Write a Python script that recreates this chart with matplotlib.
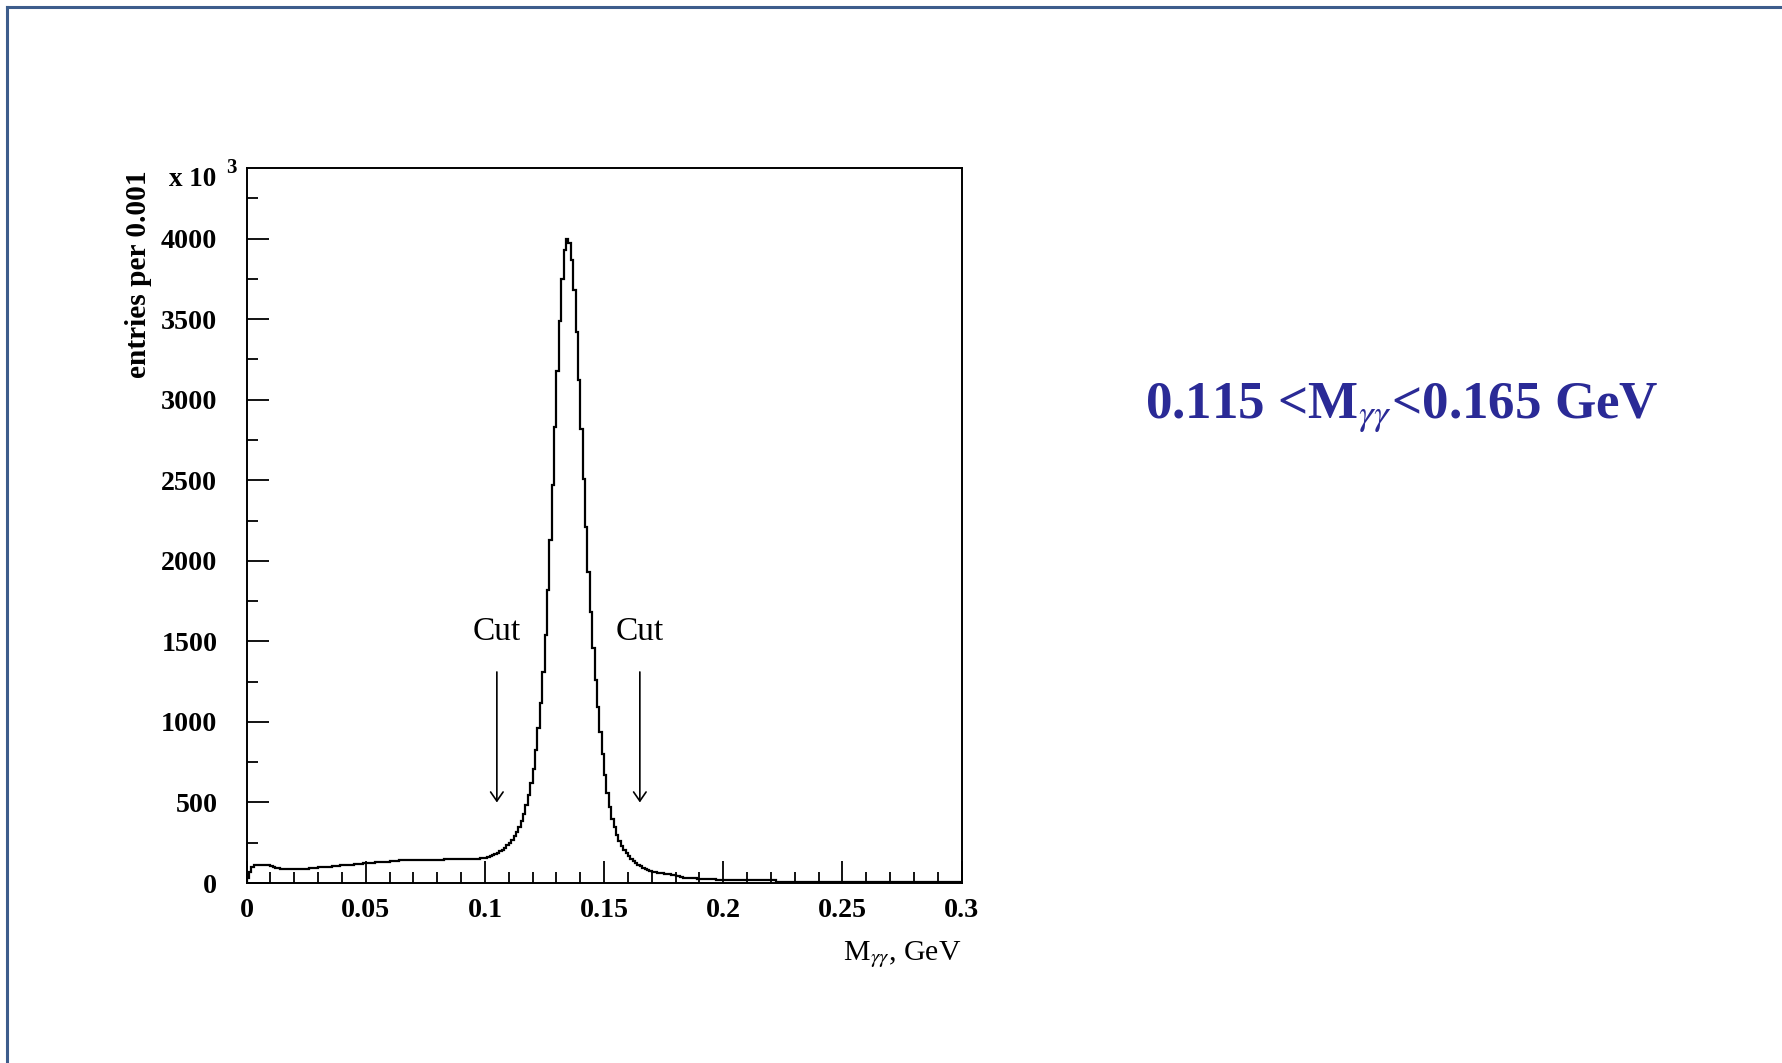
import matplotlib.pyplot as plt
import numpy as np
from matplotlib.lines import Line2D
from matplotlib.ticker import MultipleLocator

plt.rcParams['font.family'] = ['Liberation Serif', 'DejaVu Serif']
plt.rcParams['mathtext.fontset'] = 'stix'

# entries per 0.001 GeV bin, in units of 10^3
counts_low = [  # 0.000 - 0.100
    30, 70, 100, 110, 112, 113, 113, 112, 112, 110,
    104, 98, 96, 93, 88, 86, 86, 85, 85, 86,
    86, 86, 87, 87, 88, 89, 91, 95, 96, 96,
    97, 97, 98, 99, 100, 101, 103, 105, 108, 109,
    110, 111, 112, 113, 114, 116, 118, 120, 121, 122,
    123, 124, 125, 127, 128, 129, 130, 131, 132, 133,
    134, 135, 137, 139, 140, 141, 141, 142, 142, 143,
    143, 143, 144, 144, 144, 145, 145, 145, 145, 146,
    146, 146, 146, 147, 147, 147, 147, 148, 148, 148,
    149, 149, 150, 150, 151, 151, 152, 152, 153, 155,
]
counts_peak = [  # 0.100 - 0.170
    158, 163, 168, 174, 181, 189, 198, 208, 220, 234,
    250, 268, 290, 316, 348, 385, 430, 482, 545, 620,
    710, 825, 960, 1120, 1310, 1540, 1820, 2130, 2470, 2830,
    3180, 3490, 3750, 3930, 4000, 3970, 3870, 3680, 3420, 3120,
    2820, 2510, 2210, 1930, 1680, 1460, 1260, 1090, 935, 800,
    670, 560, 470, 400, 345, 300, 262, 232, 207, 186,
    168, 152, 138, 125, 113, 103, 95, 88, 82, 77,
]
counts_high = [  # 0.170 - 0.300
    70, 67, 64, 62, 60, 58, 56, 54, 50, 48,
    46, 44, 40, 34, 32, 31, 30, 29, 29, 28,
    28, 27, 27, 26, 26, 25, 24, 20, 20, 20,
    19, 19, 19, 19, 19, 18, 18, 18, 18, 18,
    18, 17, 17, 17, 17, 17, 17, 16, 16, 16,
    16, 16, 8, 8, 8, 7, 7, 7, 7, 7,
    7, 7, 6, 6, 6, 6, 6, 6, 6, 6,
    6, 6, 6, 6, 5, 5, 5, 5, 5, 5,
    5, 5, 5, 5, 5, 5, 5, 5, 5, 5,
    5, 5, 5, 5, 5, 5, 5, 5, 5, 5,
    5, 5, 4, 4, 4, 4, 4, 4, 4, 4,
    4, 4, 4, 4, 4, 4, 4, 4, 4, 4,
    4, 4, 4, 4, 4, 4, 4, 4, 4, 4,
]
cut_positions = [0.105, 0.165]
x_ticks = [0, 0.05, 0.1, 0.15, 0.2, 0.25, 0.3]
x_tick_labels = ['0', '0.05', '0.1', '0.15', '0.2', '0.25', '0.3']
y_ticks = [0, 500, 1000, 1500, 2000, 2500, 3000, 3500, 4000]

counts = np.array(counts_low + counts_peak + counts_high)
edges = np.linspace(0.0, 0.3, len(counts) + 1)

fig = plt.figure(figsize=(17.82, 10.63), dpi=100)

# slide frame
frame_col = '#3d5d8c'
fig.add_artist(Line2D([0.0039, 1.0], [0.9934, 0.9934], transform=fig.transFigure,
                      color=frame_col, lw=2.2))
fig.add_artist(Line2D([0.0039, 0.0039], [0.0, 0.9934], transform=fig.transFigure,
                      color=frame_col, lw=2.2))

ax = fig.add_axes([0.1384, 0.1693, 0.4012, 0.6725])
ax.stairs(counts, edges, color='black', lw=1.6, baseline=0)
ax.set_xlim(0, 0.3)
ax.set_ylim(0, 4437)

for s in ax.spines.values():
    s.set_linewidth(1.4)

ax.set_xticks(x_ticks)
ax.set_xticklabels(x_tick_labels, fontweight='bold', fontsize=20.2)
ax.set_yticks(y_ticks)
ax.set_yticklabels([str(v) for v in y_ticks], fontweight='bold', fontsize=20.2)
ax.xaxis.set_minor_locator(MultipleLocator(0.01))
ax.yaxis.set_minor_locator(MultipleLocator(250))
ax.tick_params(which='both', direction='in', top=False, right=False, width=1.3)
ax.tick_params(which='major', length=16)
ax.tick_params(which='minor', length=8)
ax.tick_params(axis='x', which='major', pad=11)
ax.tick_params(axis='y', which='major', pad=21)

ax.text(-0.151, 0.997, 'entries per 0.001', transform=ax.transAxes, rotation=90,
        ha='center', va='top', fontsize=21.2, fontweight='bold')
ax.text(-0.0428, 0.9835, 'x 10', transform=ax.transAxes, ha='right', va='center',
        fontsize=19.5, fontweight='bold')
ax.text(-0.0218, 1.0, '3', transform=ax.transAxes, ha='center', va='center',
        fontsize=15, fontweight='bold')
ax.text(1.0, -0.1077, r'M$_{\gamma\gamma}$, GeV', transform=ax.transAxes,
        ha='right', va='baseline', fontsize=21.5)

# cut markers
for c in cut_positions:
    ax.annotate('', xy=(c, 500), xytext=(c, 1310),
                arrowprops=dict(arrowstyle='->, head_length=0.65, head_width=0.45',
                                lw=1.2, color='black', shrinkA=0, shrinkB=0))
    ax.text(c, 1560, 'Cut', ha='center', va='center', fontsize=24)

fig.text(0.6423, 0.6068, r'0.115 <M$_{\gamma\gamma}$<0.165 GeV', ha='left',
         va='baseline', fontsize=38.2, fontweight='bold', color='#2a2a96')

fig.savefig('out.png', dpi=100)
